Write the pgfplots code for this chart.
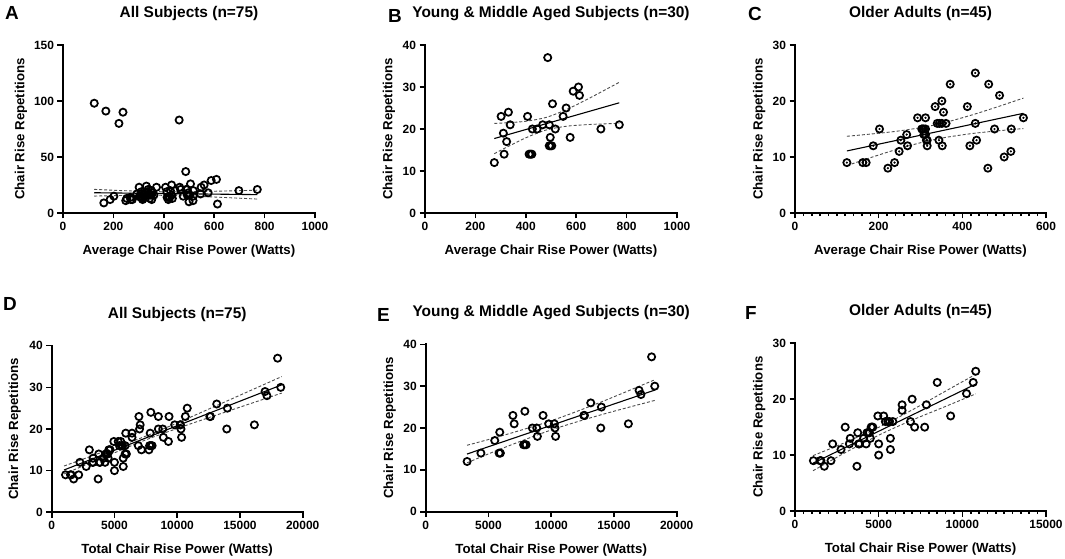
\documentclass[border=0pt]{standalone}
\usepackage{fontspec}
\setmainfont{Liberation Sans}
\usepackage{pgfplots}
\pgfplotsset{compat=1.18}
\usepackage{pgfplotstable}

\pgfplotstableread{
x y
275 12
302 23
311 19
314 14
324 17
331 24
338 21
407 23
413 14
419 14
424 14
426 20
445 20
467 21
487 37
493 21
493 16
497 18
498 16
503 16
506 26
517 20
548 23
560 25
576 18
588 29
609 30
613 28
698 20
771 21
}\dataB

\pgfplotstableread{
x y
124 9
162 9
170 9
187 12
202 15
222 8
238 9
249 11
253 13
267 14
269 12
293 17
303 15
305 15
308 15
312 15
308 14
312 14
312 17
314 13
316 13
316 12
335 19
340 16
344 13
345 16
351 20
351 16
352 12
355 18
361 16
371 23
412 19
418 12
431 25
431 16
434 13
461 8
463 23
477 15
489 21
500 10
516 11
517 15
546 17
}\dataC

\pgfplotstableread{
x y
275 12
302 23
311 19
314 14
324 17
331 24
338 21
407 23
413 14
419 14
424 14
426 20
445 20
467 21
487 37
493 21
493 16
497 18
498 16
503 16
506 26
517 20
548 23
560 25
576 18
588 29
609 30
613 8
698 20
771 21
124 98
162 9
170 91
187 12
202 15
222 80
238 90
249 11
253 13
267 14
269 12
293 17
303 15
305 15
308 15
312 15
308 14
312 14
312 17
314 13
316 13
316 12
335 19
340 16
344 13
345 16
351 20
351 16
352 12
355 18
361 16
371 23
412 19
418 12
431 25
431 16
434 13
461 83
463 23
477 15
489 21
500 10
516 11
517 15
546 17
}\dataA

\pgfplotstableread{
x y
3300 12
4400 14
5500 17
5850 14
5950 14
5900 19
6950 23
7050 21
7800 16
7900 16
8000 16
7900 24
8500 20
8850 20
8900 18
9350 23
9800 21
10250 21
10300 20
10350 18
12600 23
12650 23
13150 26
14000 25
13950 20
16150 21
17000 29
17150 28
18000 37
18250 30
}\dataE

\pgfplotstableread{
x y
1100 9
1500 9
1550 9
1750 8
2150 9
2250 12
2750 11
3000 15
3250 12
3300 13
3700 8
3750 14
3800 12
3850 12
4100 13
4250 12
4300 14
4400 14
4450 14
4500 13
4550 15
4600 15
4650 15
4950 17
5000 12
5000 10
5300 17
5400 16
5550 16
5650 16
5850 16
5700 13
5700 11
6400 19
6400 18
6900 16
7000 20
7150 15
7750 15
7850 19
8500 23
9300 17
10250 21
10650 23
10800 25
}\dataF

\pgfplotsset{
  panel/.style={
    scale only axis,
    anchor=south west,
    axis x line*=bottom, axis y line*=left,
    axis line style={line width=2bp, line cap=rect, black},
    tick align=outside,
    major tick length=5.5bp,
    minor tick length=3.2bp,
    tick style={line width=1.6bp, black},
    tick label style={font=\fontsize{12}{14}\selectfont\bfseries},
    /pgf/number format/assume math mode=true,
    /pgf/number format/1000 sep={},
    scaled ticks=false,
    label style={font=\fontsize{13.3}{15}\selectfont\bfseries},
    title style={font=\fontsize{15.5}{18}\selectfont\bfseries, at={(0.5,1)}, anchor=base, yshift=21.5bp},
    xlabel style={at={(axis description cs:0.5,0)}, anchor=base, yshift=-41.5bp},
    enlargelimits=false,
    clip=false,
  },
  pts/.style={only marks, mark=o, mark size=3.6bp, mark options={line width=1.75bp, black, solid}},
  dots/.style={only marks, mark=*, mark size=0.9bp, mark options={black, solid}},
  fitl/.style={black, line width=1.1bp, no marks},
  cil/.style={black!70, line width=0.9bp, dash pattern=on 3bp off 2bp, no marks, smooth},
}

\begin{document}
\begin{tikzpicture}
\path[use as bounding box] (0,0) rectangle (1065bp,559bp);

% ---------- A ----------
\begin{axis}[panel, at={(63bp,346bp)}, width=252bp, height=168bp,
  xmin=0, xmax=1000, ymin=0, ymax=150,
  xtick={0,200,...,1000}, ytick={0,50,100,150},
  title={All Subjects (n=75)},
  xlabel={Average Chair Rise Power (Watts)},
  ylabel={Chair Rise Repetitions},
  ylabel style={at={(axis description cs:-0.167,0.5)}, anchor=center}]
\addplot[cil] coordinates {(124,21.10)(250,19.85)(390,19.00)(550,19.19)(771,20.37)};
\addplot[cil] coordinates {(124,15.10)(250,15.69)(390,15.80)(550,14.77)(771,12.43)};
\addplot[fitl] coordinates {(124,18.10)(771,16.40)};
\addplot[pts] table {\dataA};
\end{axis}

% ---------- B ----------
\begin{axis}[panel, at={(425bp,346bp)}, width=252bp, height=168bp,
  xmin=0, xmax=1000, ymin=0, ymax=40,
  xtick={0,200,...,1000}, ytick={0,10,...,40},
  title={Young \& Middle Aged Subjects (n=30)},
  xlabel={Average Chair Rise Power (Watts)},
  ylabel={Chair Rise Repetitions},
  ylabel style={at={(axis description cs:-0.143,0.5)}, anchor=center}]
\addplot[cil] coordinates {(275,21.33)(330,21.50)(400,21.84)(480,22.75)(560,24.59)(640,26.95)(710,29.16)(771,31.12)};
\addplot[cil] coordinates {(275,14.13)(330,15.84)(400,17.90)(480,19.75)(560,20.65)(640,21.03)(710,21.22)(771,21.36)};
\addplot[fitl] coordinates {(275,17.73)(771,26.24)};
\addplot[pts] table {\dataB};
\end{axis}

% ---------- C ----------
\begin{axis}[panel, at={(795bp,346bp)}, width=251bp, height=168bp,
  xmin=0, xmax=600, ymin=0, ymax=30,
  xtick={0,200,...,600}, ytick={0,10,...,30},
  minor x tick num=9,
  title={Older Adults (n=45)},
  xlabel={Average Chair Rise Power (Watts)},
  ylabel={Chair Rise Repetitions},
  ylabel style={at={(axis description cs:-0.143,0.5)}, anchor=center}]
\addplot[cil] coordinates {(124,13.70)(180,14.09)(240,14.57)(300,15.23)(330,15.66)(360,16.18)(420,17.44)(480,18.86)(546,20.52)};
\addplot[cil] coordinates {(124,8.46)(180,9.87)(240,11.29)(300,12.55)(330,13.06)(360,13.50)(420,14.16)(480,14.64)(546,15.08)};
\addplot[fitl] coordinates {(124,11.08)(546,17.80)};
\addplot[pts] table {\dataC};
\addplot[dots] table {\dataC};
\end{axis}

% ---------- D ----------
\begin{axis}[panel, at={(51.7bp,46.7bp)}, width=251bp, height=166.6bp,
  xmin=0, xmax=20000, ymin=0, ymax=40,
  xtick={0,5000,...,20000}, ytick={0,10,...,40},
  title={All Subjects (n=75)},
  xlabel={Total Chair Rise Power (Watts)},
  ylabel={Chair Rise Repetitions},
  ylabel style={at={(axis description cs:-0.147,0.5)}, anchor=center}]
\addplot[cil] coordinates {(983,11.11)(4000,14.42)(7160,17.89)(10000,21.45)(14000,26.77)(18327,32.58)};
\addplot[cil] coordinates {(983,9.21)(4000,13.00)(7160,16.99)(10000,20.13)(14000,24.23)(18327,28.62)};
\addplot[fitl] coordinates {(983,10.16)(18327,30.60)};
\addplot[pts] table {\dataE};
\addplot[pts] table {\dataF};
\end{axis}

% ---------- E ----------
\begin{axis}[panel, at={(425.7bp,47.3bp)}, width=251bp, height=167.4bp,
  xmin=0, xmax=20000, ymin=0, ymax=40,
  xtick={0,5000,...,20000}, ytick={0,10,...,40},
  title={Young \& Middle Aged Subjects (n=30)},
  xlabel={Total Chair Rise Power (Watts)},
  ylabel={Chair Rise Repetitions},
  ylabel style={at={(axis description cs:-0.143,0.5)}, anchor=center}]
\addplot[cil] coordinates {(3293,15.88)(6000,18.08)(10000,21.73)(14000,26.24)(18274,31.55)};
\addplot[cil] coordinates {(3293,11.68)(6000,15.02)(10000,19.53)(14000,23.18)(18274,26.61)};
\addplot[fitl] coordinates {(3293,13.78)(18274,29.08)};
\addplot[pts] table {\dataE};
\end{axis}

% ---------- F ----------
\begin{axis}[panel, at={(795bp,48bp)}, width=251bp, height=167.7bp,
  xmin=0, xmax=15000, ymin=0, ymax=30,
  xtick={0,5000,...,15000}, ytick={0,10,...,30},
  minor x tick num=9,
  title={Older Adults (n=45)},
  xlabel={Total Chair Rise Power (Watts)},
  ylabel={Chair Rise Repetitions},
  ylabel style={at={(axis description cs:-0.143,0.5)}, anchor=center}]
\addplot[cil] coordinates {(1076,9.90)(3000,12.26)(5000,14.96)(7000,18.08)(9000,21.45)(10797,24.45)};
\addplot[cil] coordinates {(1076,7.20)(3000,10.44)(5000,13.56)(7000,16.26)(9000,18.71)(10797,20.95)};
\addplot[fitl] coordinates {(1076,8.55)(10797,22.70)};
\addplot[pts] table {\dataF};
\end{axis}

% panel letters
\begin{scope}[every node/.style={font=\fontsize{19}{22}\selectfont\bfseries, anchor=base west, inner sep=0pt}]
\node at (5bp,539bp) {A};
\node at (388bp,536bp) {B};
\node at (748bp,538.3bp) {C};
\node at (3bp,248bp) {D};
\node at (377bp,237bp) {E};
\node at (745bp,239bp) {F};
\end{scope}
\end{tikzpicture}
\end{document}
